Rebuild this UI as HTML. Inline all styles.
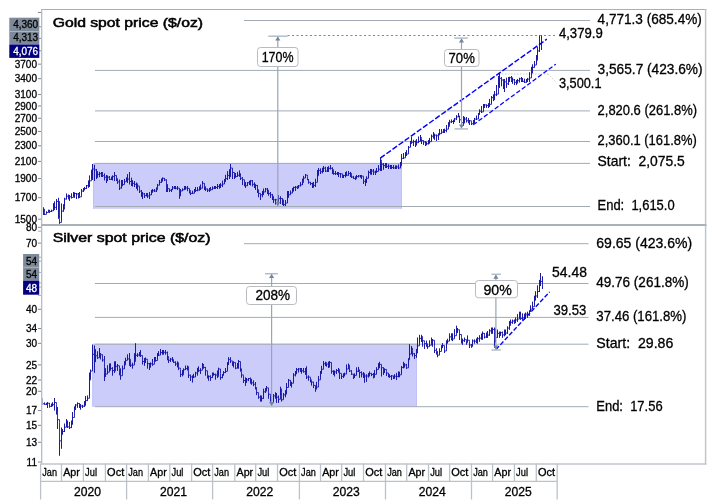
<!DOCTYPE html>
<html><head><meta charset="utf-8"><style>
html,body{margin:0;padding:0;background:#fff;width:718px;height:502px;overflow:hidden}
svg{display:block;will-change:transform}
text{font-family:"Liberation Sans",sans-serif}
</style></head><body>
<svg width="718" height="502" viewBox="0 0 718 502">
<rect width="718" height="502" fill="#fff"/>
<rect x="93" y="163" width="309" height="45.8" fill="#ccccfa"/>
<path d="M93.5,208.8V163.5H401.5V208.8" fill="none" stroke="#c0c0f8" stroke-width="1"/>
<rect x="92.3" y="343.8" width="324.7" height="63" fill="#ccccfa"/>
<path d="M92.8,406.8V344.3H416.5V406.8" fill="none" stroke="#c0c0f8" stroke-width="1"/>
<line x1="244" y1="20.5" x2="590" y2="20.5" stroke="#a3abb5" stroke-width="1" />
<line x1="95" y1="70.4" x2="590" y2="70.4" stroke="#a3abb5" stroke-width="1" />
<line x1="95" y1="110.9" x2="590" y2="110.9" stroke="#a3abb5" stroke-width="1" />
<line x1="95" y1="141.5" x2="590" y2="141.5" stroke="#a3abb5" stroke-width="1" />
<line x1="95" y1="163.4" x2="590" y2="163.4" stroke="#a3abb5" stroke-width="1" />
<line x1="95" y1="206.5" x2="590" y2="206.5" stroke="#a3abb5" stroke-width="1" />
<line x1="244" y1="243.7" x2="588.5" y2="243.7" stroke="#a3abb5" stroke-width="1" />
<line x1="95" y1="283.5" x2="588.5" y2="283.5" stroke="#a3abb5" stroke-width="1" />
<line x1="95" y1="317.4" x2="588.5" y2="317.4" stroke="#a3abb5" stroke-width="1" />
<line x1="95" y1="344.2" x2="588.5" y2="344.2" stroke="#a3abb5" stroke-width="1" />
<line x1="95" y1="406.7" x2="588.5" y2="406.7" stroke="#a3abb5" stroke-width="1" />
<line x1="287.5" y1="35.5" x2="555" y2="35.5" stroke="#7f8994" stroke-width="1" stroke-dasharray="2,2.5"/>
<line x1="502" y1="74" x2="548" y2="74" stroke="#c8ccd0" stroke-width="1" stroke-dasharray="1.5,1.5"/>
<line x1="548" y1="74" x2="556" y2="82" stroke="#c8ccd0" stroke-width="1" stroke-dasharray="1.5,1.5"/>
<path d="M43.5,207.20V215.00V209.10H44.5V212.51V215.00V214.36H46.5V211.48V213.00V212.52H48.5V209.85V211.50V210.39H49.5V209.90V213.00V211.44H51.5V209.78V212.00V210.81H53.5V203.30V210.80V207.85H54.5V201.52V209.82V207.35H56.5V199.10V210.00V201.45H58.5V197.90V218.70V201.43H59.5V218.70V223.70V222.38H61.5V203.60V220.24V211.14H63.5V204.40V211.50V209.25H64.5V197.90V205.80V199.10H66.5V193.60V199.30V196.23H68.5V194.68V199.22V197.65H69.5V194.97V200.80V196.78H71.5V193.48V198.37V197.45H73.5V192.00V196.08V195.19H74.5V192.58V197.74V193.46H76.5V193.00V199.00V194.01H78.5V193.00V198.31V195.81H79.5V192.04V198.00V196.85H81.5V189.00V194.03V191.10H83.5V188.22V191.96V189.35H84.5V186.98V190.30V188.46H86.5V185.04V189.00V185.71H88.5V180.61V187.65V182.76H89.5V175.62V187.00V180.82H91.5V169.81V178.34V174.05H92.5V164.00V180.00V169.01H94.5V164.83V181.00V169.87H96.5V168.96V179.02V172.01H97.5V171.33V177.67V174.32H99.5V171.88V177.12V173.73H101.5V172.00V177.00V172.83H102.5V172.00V177.00V175.68H104.5V173.62V180.24V177.19H106.5V175.00V183.00V179.80H107.5V175.65V181.06V177.16H109.5V176.00V180.00V179.38H111.5V176.75V180.00V179.19H112.5V175.47V180.31V176.60H114.5V172.00V181.00V175.45H116.5V175.72V181.00V179.18H117.5V178.60V183.70V181.90H119.5V179.71V190.00V188.00H121.5V180.00V188.37V183.73H122.5V180.00V186.16V184.50H124.5V178.97V183.43V181.74H126.5V177.60V181.20V178.90H127.5V174.28V182.86V179.10H129.5V172.00V184.35V181.48H131.5V177.81V186.00V183.89H132.5V180.34V186.34V183.36H134.5V181.00V187.00V184.37H136.5V182.66V188.66V183.71H137.5V184.00V190.44V186.06H139.5V186.70V193.00V191.16H141.5V190.13V196.76V193.05H142.5V192.00V199.00V193.90H144.5V193.00V198.00V195.67H146.5V193.00V196.25V195.09H147.5V193.00V197.80V195.99H149.5V192.03V199.00V194.91H151.5V189.95V195.00V192.26H152.5V189.00V192.36V190.70H154.5V189.00V192.00V191.08H156.5V187.52V192.00V189.83H157.5V183.93V187.00V185.24H159.5V180.00V184.78V182.36H161.5V178.73V182.62V179.39H162.5V177.60V181.40V178.29H164.5V178.00V181.00V179.93H166.5V179.49V192.00V189.98H167.5V184.30V192.00V188.65H169.5V189.00V192.00V190.28H171.5V188.97V192.00V189.79H172.5V186.00V189.81V187.91H174.5V186.00V189.00V188.51H175.5V186.00V189.18V188.19H177.5V186.00V190.00V188.11H179.5V188.07V198.60V195.99H180.5V189.00V195.36V190.99H182.5V188.56V191.00V189.80H184.5V186.00V189.26V188.66H185.5V186.00V189.62V188.01H187.5V186.00V191.12V188.41H189.5V189.00V193.24V190.44H190.5V191.53V195.00V193.38H192.5V190.82V193.82V193.28H194.5V189.01V193.00V189.62H195.5V187.00V192.00V190.49H197.5V187.00V191.19V190.04H199.5V186.46V190.46V189.54H200.5V184.64V190.00V188.22H202.5V181.00V184.16V183.27H204.5V183.35V190.00V186.76H205.5V186.57V191.03V188.99H207.5V188.75V192.00V190.21H209.5V188.00V192.00V188.76H210.5V187.00V190.56V189.70H212.5V186.54V189.54V188.18H214.5V186.00V189.00V186.87H215.5V186.00V189.00V187.51H217.5V184.00V189.00V186.45H219.5V184.00V188.56V185.82H220.5V183.30V188.00V185.14H222.5V180.76V187.00V184.05H224.5V179.00V183.63V181.71H225.5V174.86V181.23V178.55H227.5V171.34V180.00V175.42H229.5V169.40V179.00V171.03H230.5V164.00V176.97V168.03H232.5V170.00V179.00V172.47H234.5V172.86V179.00V176.29H235.5V173.00V177.58V176.45H237.5V171.94V176.56V175.21H239.5V170.60V176.66V174.89H240.5V173.62V180.00V178.22H242.5V177.18V185.00V179.75H244.5V180.17V186.17V184.61H245.5V182.00V188.00V185.73H247.5V182.00V185.42V182.71H249.5V180.83V185.00V181.51H250.5V180.00V185.35V180.86H252.5V180.00V186.30V184.28H254.5V182.52V188.00V184.30H255.5V184.16V189.75V185.43H257.5V185.00V192.93V189.66H258.5V191.00V197.14V193.40H260.5V193.51V200.00V194.80H262.5V191.13V197.13V192.70H263.5V188.70V195.00V191.97H265.5V188.00V192.04V189.08H267.5V188.00V194.00V190.05H268.5V190.11V195.58V193.66H270.5V192.00V197.81V194.72H272.5V193.98V200.00V196.24H273.5V196.85V203.00V199.81H275.5V198.91V204.36V199.82H277.5V198.95V206.00V201.92H278.5V195.00V203.11V198.61H280.5V196.37V204.00V198.52H282.5V198.28V204.85V199.77H283.5V200.00V206.00V204.68H285.5V200.00V206.00V203.04H287.5V191.00V202.13V194.30H288.5V191.00V197.70V194.85H290.5V190.67V194.00V193.07H292.5V188.00V192.27V188.70H293.5V186.76V191.38V187.51H295.5V186.00V191.00V187.26H297.5V185.92V189.00V187.93H298.5V185.00V188.16V185.83H300.5V182.17V186.30V184.83H302.5V178.80V185.00V182.67H303.5V175.90V180.00V178.08H305.5V174.00V177.68V175.12H307.5V176.59V180.11V179.52H308.5V179.00V183.55V182.22H310.5V182.00V185.08V183.57H312.5V182.75V188.00V184.36H313.5V182.06V187.53V185.36H315.5V178.80V187.00V182.30H317.5V170.00V180.32V175.71H318.5V168.00V174.33V170.37H320.5V168.57V174.00V171.78H322.5V167.85V173.23V168.88H323.5V166.00V172.00V168.15H325.5V166.86V172.00V171.11H327.5V167.00V172.00V170.81H328.5V166.35V172.00V168.41H330.5V165.00V169.41V168.31H332.5V167.51V174.00V169.89H333.5V169.70V174.57V173.63H335.5V171.00V175.00V173.68H337.5V172.00V175.02V173.33H338.5V172.00V177.00V173.63H340.5V173.12V177.56V173.81H342.5V174.00V178.00V177.06H343.5V174.92V178.00V175.47H345.5V172.00V177.25V175.80H346.5V171.49V175.97V175.18H348.5V171.00V175.53V173.49H350.5V171.96V177.00V173.32H351.5V174.13V178.00V177.06H353.5V175.93V178.93V178.42H355.5V176.56V180.00V178.77H356.5V175.00V178.05V176.55H358.5V175.00V177.30V175.96H360.5V175.00V177.42V175.95H361.5V175.00V178.87V176.14H363.5V176.80V184.00V181.28H365.5V178.96V186.00V182.15H366.5V176.48V182.87V178.31H368.5V170.76V178.00V172.38H370.5V169.00V174.51V172.39H371.5V169.00V174.60V171.00H373.5V169.00V175.00V172.00H375.5V170.74V175.00V172.35H376.5V168.00V172.57V171.48H378.5V165.23V170.34V169.21H380.5V158.00V171.00V160.11H381.5V161.50V171.00V164.26H383.5V163.00V169.64V165.52H385.5V163.00V168.00V167.20H386.5V163.00V168.00V166.49H388.5V164.35V169.00V166.15H390.5V165.00V169.00V166.20H391.5V165.00V169.00V167.49H393.5V165.00V169.00V167.95H395.5V165.62V169.00V168.33H396.5V165.65V169.00V166.96H398.5V164.67V169.00V167.99H400.5V162.00V168.14V165.87H401.5V154.00V162.90V158.35H403.5V153.00V158.77V157.85H405.5V152.20V156.60V153.58H406.5V150.23V156.00V154.02H408.5V146.00V152.36V147.33H410.5V140.95V146.95V142.56H411.5V137.00V143.68V142.26H413.5V139.84V146.00V141.68H415.5V140.70V147.00V144.99H416.5V139.26V145.26V142.68H418.5V136.67V143.00V141.35H420.5V135.00V141.16V137.51H421.5V138.36V144.00V140.55H423.5V140.41V144.82V141.97H425.5V141.00V146.00V144.79H426.5V141.85V145.15V143.74H428.5V140.00V144.34V143.55H429.5V137.96V142.77V141.67H431.5V134.67V141.00V136.22H433.5V132.00V138.41V135.43H434.5V133.77V139.77V135.11H436.5V134.66V141.00V135.78H438.5V133.42V140.00V134.74H439.5V129.00V135.15V133.65H441.5V129.00V133.45V132.13H443.5V129.00V133.00V131.92H444.5V128.78V133.00V130.42H446.5V125.00V132.19V129.18H448.5V122.30V128.23V126.43H449.5V119.90V125.00V122.01H451.5V119.60V123.03V121.49H453.5V119.89V124.00V121.15H454.5V118.04V122.04V118.87H456.5V115.30V120.00V116.88H458.5V113.00V117.13V116.20H459.5V115.84V123.00V119.74H461.5V116.56V124.33V122.76H463.5V116.00V126.00V120.70H464.5V116.93V123.22V119.09H466.5V117.00V122.35V120.75H468.5V118.17V123.17V121.82H469.5V120.00V125.00V120.79H471.5V121.80V125.00V123.78H473.5V120.12V123.75V120.90H474.5V117.91V123.00V119.08H476.5V115.66V120.00V119.00H478.5V113.00V117.50V113.80H479.5V109.51V114.67V111.15H481.5V106.03V113.00V111.90H483.5V104.00V108.00V105.78H484.5V104.00V108.00V104.92H486.5V104.55V108.00V105.48H488.5V103.23V108.00V104.75H489.5V98.95V107.00V104.35H491.5V96.00V103.30V97.62H493.5V94.55V101.04V99.66H494.5V91.11V100.00V94.80H496.5V85.00V96.04V94.15H498.5V76.02V86.49V84.25H499.5V73.00V88.00V78.34H501.5V77.00V86.21V80.01H503.5V79.37V89.00V84.03H504.5V79.00V92.00V81.86H506.5V77.78V87.74V83.82H508.5V77.00V85.00V78.42H509.5V76.89V82.00V77.69H511.5V76.00V82.00V81.03H512.5V77.67V83.67V79.81H514.5V79.00V85.00V82.41H516.5V79.95V85.00V82.30H517.5V79.00V83.40V80.62H519.5V77.89V82.45V78.77H521.5V77.00V82.00V80.95H522.5V78.00V82.02V81.33H524.5V78.81V83.00V82.28H526.5V79.00V82.47V79.79H527.5V77.96V82.00V79.17H529.5V72.37V82.00V77.98H531.5V66.85V74.33V73.10H532.5V64.45V70.00V67.39H534.5V61.00V67.33V65.00H536.5V55.00V63.77V60.38H537.5V47.00V58.70V50.88H539.5V35.50V51.97V44.22H541.5V35.50V50.00V40.79" stroke="#1818a6" stroke-width="0.9" fill="none"/>
<path d="M42.5,398.00V405.00V403.73H44.5V402.60V404.65V404.27H46.5V402.97V405.00V403.35H47.5V402.00V408.00V403.26H49.5V402.99V407.50V406.31H51.5V403.71V407.00V405.90H52.5V402.43V406.11V404.71H54.5V398.00V410.36V402.52H56.5V404.45V414.36V410.14H57.5V407.00V429.00V419.64H59.5V422.32V455.60V440.85H61.5V427.70V448.60V433.15H62.5V429.00V434.60V431.53H64.5V423.66V432.00V427.21H66.5V419.21V426.76V424.16H67.5V420.70V428.01V426.89H69.5V421.96V429.00V427.70H71.5V420.70V427.94V424.54H72.5V412.00V423.86V417.47H74.5V406.52V412.00V408.37H75.5V404.00V409.86V405.03H77.5V402.60V407.69V403.46H79.5V403.21V407.93V405.45H80.5V404.00V409.50V406.05H82.5V404.92V408.00V406.20H84.5V401.00V406.90V405.56H85.5V396.00V405.00V400.66H87.5V395.63V400.60V398.32H89.5V372.70V396.00V380.05H90.5V369.67V378.00V371.06H92.5V344.80V370.00V354.32H94.5V345.64V372.70V352.29H95.5V349.34V362.09V355.81H97.5V351.47V358.88V357.76H99.5V348.00V357.05V353.63H100.5V353.00V359.30V354.75H102.5V354.50V361.50V359.93H104.5V356.00V381.00V373.69H105.5V368.32V377.06V374.12H107.5V365.41V374.00V372.15H109.5V363.64V370.36V368.24H110.5V363.54V370.46V368.40H112.5V367.28V375.50V370.55H114.5V361.50V372.94V371.07H115.5V361.50V367.30V366.28H117.5V364.00V370.77V365.78H119.5V368.50V375.20V373.04H120.5V368.50V379.60V375.72H122.5V365.70V372.35V368.85H124.5V361.24V368.50V365.02H125.5V357.80V363.00V360.36H127.5V354.50V360.00V358.89H129.5V353.00V365.70V359.36H130.5V360.16V367.00V365.17H132.5V362.80V368.50V365.07H134.5V353.30V364.00V361.52H135.5V343.40V358.70V355.33H137.5V353.34V357.00V355.07H139.5V352.00V356.23V354.31H140.5V350.00V357.00V355.56H142.5V356.00V364.36V361.49H144.5V358.02V365.70V361.79H145.5V357.59V363.00V359.24H147.5V360.70V368.50V363.64H149.5V363.00V370.00V367.48H150.5V362.57V367.00V363.75H152.5V359.01V365.70V364.27H154.5V357.00V361.50V358.52H155.5V357.00V361.50V360.55H157.5V353.00V358.82V355.13H158.5V351.31V356.00V355.16H160.5V349.00V354.50V352.54H162.5V350.00V354.50V352.26H163.5V350.00V354.50V352.31H165.5V350.00V354.50V352.73H167.5V351.70V360.21V356.48H168.5V358.70V363.00V360.28H170.5V357.95V362.00V359.14H172.5V357.00V361.50V359.29H173.5V359.44V363.00V362.30H175.5V361.50V365.70V363.96H177.5V361.50V367.28V362.67H178.5V363.00V370.06V368.11H180.5V369.34V377.00V374.38H182.5V370.00V376.26V374.91H183.5V368.50V372.94V369.76H185.5V365.70V370.00V368.59H187.5V365.70V370.37V366.59H188.5V370.84V378.00V375.19H190.5V374.78V381.00V376.90H192.5V375.50V382.40V377.63H193.5V373.85V378.00V377.02H195.5V371.89V377.00V373.04H197.5V367.91V375.50V371.82H198.5V366.57V372.00V370.63H200.5V368.38V374.00V370.19H202.5V363.00V368.16V364.53H203.5V364.04V368.50V367.46H205.5V366.96V375.50V370.77H207.5V374.00V378.27V376.79H208.5V375.50V380.60V376.38H210.5V375.50V380.76V377.62H212.5V372.70V377.52V374.00H213.5V372.70V375.52V374.45H215.5V373.78V379.60V374.99H217.5V370.66V378.00V376.67H218.5V367.81V374.69V368.97H220.5V373.60V379.60V377.56H222.5V374.00V378.14V374.68H223.5V371.17V375.50V372.59H225.5V368.00V372.70V371.38H227.5V362.29V370.00V364.30H228.5V357.30V364.89V359.41H230.5V357.30V363.00V360.91H232.5V361.50V365.74V363.28H233.5V361.50V367.32V362.55H235.5V363.00V369.10V368.14H237.5V363.00V368.24V364.34H238.5V360.00V368.50V361.49H240.5V367.00V371.46V368.74H241.5V371.30V377.56V374.93H243.5V375.50V382.96V380.50H245.5V377.55V385.81V379.44H246.5V378.00V382.79V379.85H248.5V378.00V381.06V378.52H250.5V377.70V383.43V380.36H251.5V378.91V384.60V382.81H253.5V380.50V386.12V384.25H255.5V382.00V389.30V387.70H256.5V387.40V395.04V392.59H258.5V392.83V398.60V397.18H260.5V395.56V401.40V399.32H261.5V395.70V401.40V398.44H263.5V388.80V398.60V391.82H265.5V388.22V393.00V391.15H266.5V386.00V391.07V387.88H268.5V392.96V398.60V394.21H270.5V395.80V401.44V398.41H271.5V398.04V404.20V402.74H273.5V394.18V401.40V395.91H275.5V392.40V398.60V395.87H276.5V393.00V402.80V397.17H278.5V395.64V402.80V399.29H280.5V386.81V395.06V388.88H281.5V392.22V401.40V399.76H283.5V393.00V398.60V394.86H285.5V390.30V397.20V394.26H286.5V383.08V393.00V387.48H288.5V379.00V386.62V380.24H290.5V380.11V386.00V383.30H291.5V381.89V387.40V383.26H293.5V373.32V382.00V374.96H295.5V371.00V376.30V371.92H296.5V368.00V374.12V369.61H298.5V368.00V372.39V368.95H300.5V368.00V372.00V370.38H301.5V368.00V373.50V370.78H303.5V368.00V372.45V371.73H305.5V368.00V374.86V373.51H306.5V366.50V379.00V377.08H308.5V375.55V380.50V377.10H310.5V377.70V382.21V379.78H311.5V380.50V385.44V382.11H313.5V381.90V388.08V385.38H315.5V385.54V391.60V389.10H316.5V381.90V389.20V387.08H318.5V376.12V381.90V379.86H320.5V371.02V377.70V373.22H321.5V365.91V373.50V369.30H323.5V361.00V366.41V363.81H325.5V361.86V366.00V362.49H326.5V363.63V366.56V364.14H328.5V361.77V368.00V364.49H329.5V361.00V367.36V362.45H331.5V367.06V373.50V371.29H333.5V370.40V374.90V371.83H334.5V370.70V376.30V371.93H336.5V369.10V374.00V370.46H338.5V368.00V372.51V369.41H339.5V370.91V379.00V373.35H341.5V373.50V379.00V376.33H343.5V373.50V377.83V375.56H344.5V372.77V376.30V374.07H346.5V364.65V372.00V369.05H348.5V363.70V368.59V365.16H349.5V366.93V372.00V370.91H351.5V370.24V374.90V374.08H353.5V374.90V379.00V377.61H354.5V373.48V377.70V375.39H356.5V367.51V374.90V371.27H358.5V366.93V372.00V369.75H359.5V371.31V377.70V372.50H361.5V371.60V377.21V374.08H363.5V372.00V377.96V375.08H364.5V373.50V382.61V376.02H366.5V374.40V381.85V376.01H368.5V373.00V377.44V376.16H369.5V371.60V375.80V373.31H371.5V373.00V376.08V374.58H373.5V373.00V378.28V377.20H374.5V370.20V377.42V374.37H376.5V367.40V373.48V369.54H378.5V363.28V368.80V367.91H379.5V361.90V367.96V364.39H381.5V366.00V376.34V367.69H383.5V367.40V374.80V372.06H384.5V368.46V373.00V369.46H386.5V371.44V375.80V373.03H388.5V373.00V377.20V376.10H389.5V374.40V377.64V376.41H391.5V375.10V380.00V375.89H393.5V375.80V379.04V377.31H394.5V374.40V378.60V376.24H396.5V372.92V380.00V376.39H398.5V371.60V377.20V373.26H399.5V371.80V377.20V374.84H401.5V366.00V373.22V367.46H403.5V361.90V368.24V364.11H404.5V363.30V367.48V365.02H406.5V363.94V368.80V367.85H408.5V358.30V366.00V359.87H409.5V344.40V358.70V354.10H411.5V346.08V353.80V348.28H412.5V350.64V356.30V353.75H414.5V353.02V359.00V355.56H416.5V349.02V357.70V353.14H417.5V337.70V349.73V345.85H419.5V334.90V343.00V338.35H421.5V334.90V341.90V336.55H422.5V339.00V346.48V340.76H424.5V342.30V348.80V343.64H426.5V340.77V346.64V345.14H427.5V343.62V348.80V346.72H429.5V340.50V346.24V345.22H431.5V337.70V342.36V340.66H432.5V339.00V346.60V340.27H434.5V346.12V353.00V350.33H436.5V348.42V354.40V352.57H437.5V351.36V357.20V355.19H439.5V348.52V354.40V351.45H441.5V345.23V350.20V347.22H442.5V343.30V348.06V345.54H444.5V345.99V353.00V350.96H446.5V340.50V348.28V343.13H447.5V338.84V343.30V341.15H449.5V333.50V340.50V336.89H451.5V333.50V340.16V338.95H452.5V333.50V341.08V338.90H454.5V329.30V337.26V335.69H456.5V325.80V332.18V330.49H457.5V328.00V333.00V329.79H459.5V332.00V340.03V334.51H461.5V337.70V343.30V340.46H462.5V338.70V344.60V340.66H464.5V337.70V342.02V339.64H466.5V339.80V344.60V342.80H467.5V335.60V341.42V340.22H469.5V341.21V348.00V345.01H471.5V344.21V347.58V346.64H472.5V339.60V345.91V340.97H474.5V339.60V343.50V341.16H476.5V338.59V343.13V342.44H477.5V336.98V343.60V338.65H479.5V335.32V341.60V338.09H481.5V333.66V339.60V334.83H482.5V331.70V339.60V333.36H484.5V333.06V338.31V337.14H486.5V332.68V337.70V336.91H487.5V331.02V337.70V335.05H489.5V329.36V335.70V330.88H491.5V327.70V333.70V329.84H492.5V327.70V333.70V329.57H494.5V327.70V347.60V340.03H495.5V328.73V342.49V337.36H497.5V329.70V337.70V333.36H499.5V331.70V337.70V334.80H500.5V331.70V335.76V332.63H502.5V331.70V337.70V334.87H504.5V329.70V336.25V335.04H505.5V329.70V334.56V333.00H507.5V326.50V333.70V328.06H509.5V321.24V329.70V325.57H510.5V319.70V323.70V322.30H512.5V319.70V323.70V321.02H514.5V319.70V323.70V322.81H515.5V317.55V322.60V319.94H517.5V314.28V321.70V319.05H519.5V311.80V318.12V314.54H520.5V311.80V319.70V318.49H522.5V313.54V319.70V317.84H524.5V313.80V319.70V317.05H525.5V312.68V318.58V314.17H527.5V311.80V317.70V314.51H529.5V310.36V315.80V311.29H530.5V305.52V311.80V309.08H532.5V301.80V308.20V306.71H534.5V295.80V304.88V298.31H535.5V291.38V300.44V295.97H537.5V285.56V297.80V291.53H539.5V279.94V291.90V285.13H540.5V273.00V286.05V281.45H542.5V276.52V288.90V286.49" stroke="#1818a6" stroke-width="0.9" fill="none"/>
<line x1="380.3" y1="158.1" x2="546.8" y2="39.2" stroke="#0000ff" stroke-width="1.45" stroke-dasharray="5.5,2"/>
<line x1="473.2" y1="124.8" x2="555.8" y2="64.2" stroke="#0000ff" stroke-width="1.25" stroke-dasharray="4.5,2.2"/>
<line x1="495.9" y1="349.6" x2="549.6" y2="291.9" stroke="#0000ff" stroke-width="1.35" stroke-dasharray="4.5,2"/>
<line x1="277.8" y1="36.2" x2="277.8" y2="206.3" stroke="#97a5b4" stroke-width="1.2" />
<line x1="268.3" y1="36.2" x2="287.5" y2="36.2" stroke="#b2bdc9" stroke-width="1.5" />
<path d="M275.2,40.6L277.8,36.6L280.40000000000003,40.6Z" fill="#73859b"/>
<path d="M275.2,201.9L277.8,205.9L280.40000000000003,201.9Z" fill="#73859b"/>
<line x1="461.5" y1="38.1" x2="461.5" y2="128.9" stroke="#97a5b4" stroke-width="1.2" />
<line x1="454.2" y1="38.1" x2="467.8" y2="38.1" stroke="#b2bdc9" stroke-width="1.5" />
<path d="M458.9,42.5L461.5,38.5L464.1,42.5Z" fill="#73859b"/>
<path d="M458.9,124.5L461.5,128.5L464.1,124.5Z" fill="#73859b"/>
<line x1="454.6" y1="128.9" x2="468" y2="128.9" stroke="#b2bdc9" stroke-width="1.5" />
<line x1="271.6" y1="273.7" x2="271.6" y2="406.5" stroke="#97a5b4" stroke-width="1.2" />
<line x1="265.1" y1="273.7" x2="277.8" y2="273.7" stroke="#b2bdc9" stroke-width="1.5" />
<path d="M269.0,278.09999999999997L271.6,274.09999999999997L274.20000000000005,278.09999999999997Z" fill="#73859b"/>
<path d="M269.0,402.1L271.6,406.1L274.20000000000005,402.1Z" fill="#73859b"/>
<line x1="265" y1="406.5" x2="277.6" y2="406.5" stroke="#b2bdc9" stroke-width="1.5" />
<line x1="495.9" y1="274.3" x2="495.9" y2="350" stroke="#97a5b4" stroke-width="1.2" />
<line x1="491.5" y1="274.3" x2="500.9" y2="274.3" stroke="#b2bdc9" stroke-width="1.5" />
<path d="M493.29999999999995,278.7L495.9,274.7L498.5,278.7Z" fill="#73859b"/>
<path d="M493.29999999999995,345.6L495.9,349.6L498.5,345.6Z" fill="#73859b"/>
<line x1="491.5" y1="350" x2="500.9" y2="350" stroke="#b2bdc9" stroke-width="1.5" />
<rect x="257.5" y="47.5" width="40.5" height="19.0" rx="3" ry="3" fill="#fff" stroke="#b8bcc0" stroke-width="1"/>
<text x="261.7" y="61.5" font-size="13.8" text-anchor="start" font-weight="normal" fill="#000" textLength="31.8" lengthAdjust="spacingAndGlyphs" stroke="#000" stroke-width="0.3" >170%</text>
<rect x="444.5" y="49.5" width="34.5" height="17.0" rx="3" ry="3" fill="#fff" stroke="#b8bcc0" stroke-width="1"/>
<text x="448.6" y="62.8" font-size="13.8" text-anchor="start" font-weight="normal" fill="#000" textLength="26.2" lengthAdjust="spacingAndGlyphs" stroke="#000" stroke-width="0.3" >70%</text>
<rect x="246.5" y="286.5" width="50.0" height="18.0" rx="3" ry="3" fill="#fff" stroke="#b8bcc0" stroke-width="1"/>
<text x="255.4" y="300" font-size="13.8" text-anchor="start" font-weight="normal" fill="#000" textLength="34.6" lengthAdjust="spacingAndGlyphs" stroke="#000" stroke-width="0.3" >208%</text>
<rect x="475.5" y="280.5" width="42.0" height="17.30000000000001" rx="3" ry="3" fill="#fff" stroke="#b8bcc0" stroke-width="1"/>
<text x="483.5" y="294.8" font-size="13.8" text-anchor="start" font-weight="normal" fill="#000" textLength="28.3" lengthAdjust="spacingAndGlyphs" stroke="#000" stroke-width="0.3" >90%</text>
<line x1="41" y1="9.5" x2="706.4" y2="9.5" stroke="#a7afb8" stroke-width="1" />
<line x1="41.5" y1="9" x2="41.5" y2="464.6" stroke="#b3bbc3" stroke-width="1" />
<line x1="42.4" y1="10" x2="42.4" y2="464" stroke="#dde1e5" stroke-width="0.8" />
<line x1="705.6" y1="9" x2="705.6" y2="464.6" stroke="#bfc5cb" stroke-width="1.5" />
<line x1="41" y1="464.0" x2="706.4" y2="464.0" stroke="#c0c6cc" stroke-width="1.5" />
<line x1="41" y1="225" x2="706.4" y2="225" stroke="#a9b1ba" stroke-width="2" />
<text x="52.7" y="26.9" font-size="13.6" text-anchor="start" font-weight="normal" fill="#000" textLength="150.3" lengthAdjust="spacingAndGlyphs" stroke="#000" stroke-width="0.55">Gold spot price ($/oz)</text>
<text x="52.7" y="242.1" font-size="13.6" text-anchor="start" font-weight="normal" fill="#000" textLength="157.8" lengthAdjust="spacingAndGlyphs" stroke="#000" stroke-width="0.55">Silver spot price ($/oz)</text>
<text x="597.6" y="23.5" font-size="14.3" text-anchor="start" font-weight="normal" fill="#000" textLength="104.2" lengthAdjust="spacingAndGlyphs" stroke="#000" stroke-width="0.3" >4,771.3 (685.4%)</text>
<text x="558.9" y="37.9" font-size="14.3" text-anchor="start" font-weight="normal" fill="#000" textLength="43.8" lengthAdjust="spacingAndGlyphs" stroke="#000" stroke-width="0.3" >4,379.9</text>
<text x="597.6" y="73.5" font-size="14.3" text-anchor="start" font-weight="normal" fill="#000" textLength="105" lengthAdjust="spacingAndGlyphs" stroke="#000" stroke-width="0.3" >3,565.7 (423.6%)</text>
<text x="558.9" y="87.9" font-size="14.3" text-anchor="start" font-weight="normal" fill="#000" textLength="42.6" lengthAdjust="spacingAndGlyphs" stroke="#000" stroke-width="0.3" >3,500.1</text>
<text x="597.6" y="114.9" font-size="14.3" text-anchor="start" font-weight="normal" fill="#000" textLength="99.4" lengthAdjust="spacingAndGlyphs" stroke="#000" stroke-width="0.3" >2,820.6 (261.8%)</text>
<text x="597.6" y="144.7" font-size="14.3" text-anchor="start" font-weight="normal" fill="#000" textLength="99.1" lengthAdjust="spacingAndGlyphs" stroke="#000" stroke-width="0.3" >2,360.1 (161.8%)</text>
<text x="597.6" y="166.4" font-size="14.3" text-anchor="start" font-weight="normal" fill="#000" textLength="87.2" lengthAdjust="spacingAndGlyphs" stroke="#000" stroke-width="0.3" xml:space="preserve">Start:  2,075.5</text>
<text x="597.6" y="210.0" font-size="14.3" text-anchor="start" font-weight="normal" fill="#000" textLength="77.0" lengthAdjust="spacingAndGlyphs" stroke="#000" stroke-width="0.3" xml:space="preserve">End:  1,615.0</text>
<text x="596.3" y="248.0" font-size="14.3" text-anchor="start" font-weight="normal" fill="#000" textLength="95.8" lengthAdjust="spacingAndGlyphs" stroke="#000" stroke-width="0.3" >69.65 (423.6%)</text>
<text x="552.1" y="276.6" font-size="14.3" text-anchor="start" font-weight="normal" fill="#000" textLength="34.8" lengthAdjust="spacingAndGlyphs" stroke="#000" stroke-width="0.3" >54.48</text>
<text x="596.3" y="286.6" font-size="14.3" text-anchor="start" font-weight="normal" fill="#000" textLength="92.4" lengthAdjust="spacingAndGlyphs" stroke="#000" stroke-width="0.3" >49.76 (261.8%)</text>
<text x="553.5" y="314.5" font-size="14.3" text-anchor="start" font-weight="normal" fill="#000" textLength="32.7" lengthAdjust="spacingAndGlyphs" stroke="#000" stroke-width="0.3" >39.53</text>
<text x="596.3" y="320.7" font-size="14.3" text-anchor="start" font-weight="normal" fill="#000" textLength="90.2" lengthAdjust="spacingAndGlyphs" stroke="#000" stroke-width="0.3" >37.46 (161.8%)</text>
<text x="596.3" y="347.9" font-size="14.3" text-anchor="start" font-weight="normal" fill="#000" textLength="77.0" lengthAdjust="spacingAndGlyphs" stroke="#000" stroke-width="0.3" xml:space="preserve">Start:  29.86</text>
<text x="596.3" y="410.6" font-size="14.3" text-anchor="start" font-weight="normal" fill="#000" textLength="66.3" lengthAdjust="spacingAndGlyphs" stroke="#000" stroke-width="0.3" xml:space="preserve">End:  17.56</text>
<line x1="37.9" y1="219.19" x2="41" y2="219.19" stroke="#7f8994" stroke-width="1" />
<line x1="37.9" y1="197.69948835479718" x2="41" y2="197.69948835479718" stroke="#7f8994" stroke-width="1" />
<line x1="37.9" y1="178.60204680637165" x2="41" y2="178.60204680637165" stroke="#7f8994" stroke-width="1" />
<line x1="37.9" y1="161.41771697213775" x2="41" y2="161.41771697213775" stroke="#7f8994" stroke-width="1" />
<line x1="37.9" y1="145.79786265421444" x2="41" y2="145.79786265421444" stroke="#7f8994" stroke-width="1" />
<line x1="37.9" y1="131.4812403993794" x2="41" y2="131.4812403993794" stroke="#7f8994" stroke-width="1" />
<line x1="37.9" y1="118.26702963630616" x2="41" y2="118.26702963630616" stroke="#7f8994" stroke-width="1" />
<line x1="37.9" y1="105.99752552057188" x2="41" y2="105.99752552057188" stroke="#7f8994" stroke-width="1" />
<line x1="37.9" y1="94.54661651914984" x2="41" y2="94.54661651914984" stroke="#7f8994" stroke-width="1" />
<line x1="37.9" y1="78.68611745265457" x2="41" y2="78.68611745265457" stroke="#7f8994" stroke-width="1" />
<line x1="37.9" y1="64.16761392823614" x2="41" y2="64.16761392823614" stroke="#7f8994" stroke-width="1" />
<line x1="37.9" y1="50.78161725788661" x2="41" y2="50.78161725788661" stroke="#7f8994" stroke-width="1" />
<line x1="37.9" y1="38.36415966466481" x2="41" y2="38.36415966466481" stroke="#7f8994" stroke-width="1" />
<line x1="37.9" y1="26.784491752071858" x2="41" y2="26.784491752071858" stroke="#7f8994" stroke-width="1" />
<line x1="37.9" y1="12.46786949723679" x2="41" y2="12.46786949723679" stroke="#7f8994" stroke-width="1" />
<text x="37" y="222.79" font-size="10" text-anchor="end" font-weight="normal" fill="#000" stroke="#000" stroke-width="0.3" >1500</text>
<text x="37" y="201.29948835479718" font-size="10" text-anchor="end" font-weight="normal" fill="#000" stroke="#000" stroke-width="0.3" >1700</text>
<text x="37" y="182.20204680637164" font-size="10" text-anchor="end" font-weight="normal" fill="#000" stroke="#000" stroke-width="0.3" >1900</text>
<text x="37" y="165.01771697213775" font-size="10" text-anchor="end" font-weight="normal" fill="#000" stroke="#000" stroke-width="0.3" >2100</text>
<text x="37" y="149.39786265421444" font-size="10" text-anchor="end" font-weight="normal" fill="#000" stroke="#000" stroke-width="0.3" >2300</text>
<text x="37" y="135.0812403993794" font-size="10" text-anchor="end" font-weight="normal" fill="#000" stroke="#000" stroke-width="0.3" >2500</text>
<text x="37" y="121.86702963630616" font-size="10" text-anchor="end" font-weight="normal" fill="#000" stroke="#000" stroke-width="0.3" >2700</text>
<text x="37" y="109.59752552057188" font-size="10" text-anchor="end" font-weight="normal" fill="#000" stroke="#000" stroke-width="0.3" >2900</text>
<text x="37" y="98.14661651914983" font-size="10" text-anchor="end" font-weight="normal" fill="#000" stroke="#000" stroke-width="0.3" >3100</text>
<text x="37" y="82.28611745265457" font-size="10" text-anchor="end" font-weight="normal" fill="#000" stroke="#000" stroke-width="0.3" >3400</text>
<text x="37" y="67.76761392823613" font-size="10" text-anchor="end" font-weight="normal" fill="#000" stroke="#000" stroke-width="0.3" >3700</text>
<line x1="37.9" y1="462.03" x2="41" y2="462.03" stroke="#7f8994" stroke-width="1" />
<line x1="37.9" y1="442.2675017843474" x2="41" y2="442.2675017843474" stroke="#7f8994" stroke-width="1" />
<line x1="37.9" y1="425.33867198165575" x2="41" y2="425.33867198165575" stroke="#7f8994" stroke-width="1" />
<line x1="37.9" y1="410.53187217019683" x2="41" y2="410.53187217019683" stroke="#7f8994" stroke-width="1" />
<line x1="37.9" y1="391.3058828106101" x2="41" y2="391.3058828106101" stroke="#7f8994" stroke-width="1" />
<line x1="37.9" y1="380.03068853975844" x2="41" y2="380.03068853975844" stroke="#7f8994" stroke-width="1" />
<line x1="37.9" y1="364.90800069013903" x2="41" y2="364.90800069013903" stroke="#7f8994" stroke-width="1" />
<line x1="37.9" y1="343.3393605214142" x2="41" y2="343.3393605214142" stroke="#7f8994" stroke-width="1" />
<line x1="37.9" y1="328.5325607099553" x2="41" y2="328.5325607099553" stroke="#7f8994" stroke-width="1" />
<line x1="37.9" y1="309.30657135036853" x2="41" y2="309.30657135036853" stroke="#7f8994" stroke-width="1" />
<line x1="37.9" y1="243.10402363760804" x2="41" y2="243.10402363760804" stroke="#7f8994" stroke-width="1" />
<line x1="37.9" y1="227.30725989012703" x2="41" y2="227.30725989012703" stroke="#7f8994" stroke-width="1" />
<line x1="37.9" y1="231.2" x2="41" y2="231.2" stroke="#a8b0b8" stroke-width="1" />
<line x1="37.9" y1="257.2" x2="41" y2="257.2" stroke="#a8b0b8" stroke-width="1" />
<line x1="37.9" y1="261.2" x2="41" y2="261.2" stroke="#a8b0b8" stroke-width="1" />
<line x1="37.9" y1="272.4" x2="41" y2="272.4" stroke="#a8b0b8" stroke-width="1" />
<line x1="37.9" y1="282.9" x2="41" y2="282.9" stroke="#a8b0b8" stroke-width="1" />
<line x1="37.9" y1="287.1" x2="41" y2="287.1" stroke="#a8b0b8" stroke-width="1" />
<line x1="37.9" y1="295.4" x2="41" y2="295.4" stroke="#a8b0b8" stroke-width="1" />
<text x="37" y="465.63" font-size="10" text-anchor="end" font-weight="normal" fill="#000" stroke="#000" stroke-width="0.3" >11</text>
<text x="37" y="445.86750178434744" font-size="10" text-anchor="end" font-weight="normal" fill="#000" stroke="#000" stroke-width="0.3" >13</text>
<text x="37" y="428.9386719816558" font-size="10" text-anchor="end" font-weight="normal" fill="#000" stroke="#000" stroke-width="0.3" >15</text>
<text x="37" y="414.13187217019686" font-size="10" text-anchor="end" font-weight="normal" fill="#000" stroke="#000" stroke-width="0.3" >17</text>
<text x="37" y="394.90588281061014" font-size="10" text-anchor="end" font-weight="normal" fill="#000" stroke="#000" stroke-width="0.3" >20</text>
<text x="37" y="383.63068853975847" font-size="10" text-anchor="end" font-weight="normal" fill="#000" stroke="#000" stroke-width="0.3" >22</text>
<text x="37" y="368.50800069013906" font-size="10" text-anchor="end" font-weight="normal" fill="#000" stroke="#000" stroke-width="0.3" >25</text>
<text x="37" y="346.93936052141424" font-size="10" text-anchor="end" font-weight="normal" fill="#000" stroke="#000" stroke-width="0.3" >30</text>
<text x="37" y="332.1325607099553" font-size="10" text-anchor="end" font-weight="normal" fill="#000" stroke="#000" stroke-width="0.3" >34</text>
<text x="37" y="312.90657135036855" font-size="10" text-anchor="end" font-weight="normal" fill="#000" stroke="#000" stroke-width="0.3" >40</text>
<text x="37" y="246.70402363760803" font-size="10" text-anchor="end" font-weight="normal" fill="#000" stroke="#000" stroke-width="0.3" >70</text>
<text x="37" y="230.90725989012702" font-size="10" text-anchor="end" font-weight="normal" fill="#000" stroke="#000" stroke-width="0.3" >80</text>
<rect x="9.3" y="17.7" width="30" height="26.8" fill="#7e8a99"/>
<rect x="9.3" y="31" width="30" height="1" fill="#aab5c1"/>
<rect x="9.3" y="44.5" width="30" height="13.4" fill="#000080"/>
<text x="38.2" y="27.6" font-size="10" text-anchor="end" font-weight="normal" fill="#000" stroke="#000" stroke-width="0.3" >4,360</text>
<text x="38.2" y="41.2" font-size="10" text-anchor="end" font-weight="normal" fill="#000" stroke="#000" stroke-width="0.3" >4,313</text>
<text x="38.2" y="54.5" font-size="10" text-anchor="end" font-weight="normal" fill="#fff" stroke="#fff" stroke-width="0.3" >4,076</text>
<rect x="23.1" y="254" width="16.1" height="26.7" fill="#7e8a99"/>
<rect x="23.1" y="266.8" width="16.1" height="1" fill="#aab5c1"/>
<rect x="23.1" y="280.7" width="16.1" height="14" fill="#000080"/>
<text x="37.2" y="264.8" font-size="10" text-anchor="end" font-weight="normal" fill="#000" stroke="#000" stroke-width="0.3" >54</text>
<text x="37.2" y="277.7" font-size="10" text-anchor="end" font-weight="normal" fill="#000" stroke="#000" stroke-width="0.3" >54</text>
<text x="37.2" y="291.7" font-size="10" text-anchor="end" font-weight="normal" fill="#fff" stroke="#fff" stroke-width="0.3" >48</text>
<line x1="40.6" y1="481.3" x2="557.2" y2="481.3" stroke="#bcc2c8" stroke-width="1.2" />
<line x1="40.6" y1="463.5" x2="40.6" y2="499.5" stroke="#bcc2c8" stroke-width="1.3" />
<text x="42.300000000000004" y="475.8" font-size="10.5" text-anchor="start" font-weight="normal" fill="#000" textLength="14.7" lengthAdjust="spacingAndGlyphs" stroke="#000" stroke-width="0.3" >Jan</text>
<line x1="61.5" y1="463.5" x2="61.5" y2="481.3" stroke="#bcc2c8" stroke-width="1.3" />
<text x="63.2" y="475.8" font-size="10.5" text-anchor="start" font-weight="normal" fill="#000" textLength="16.7" lengthAdjust="spacingAndGlyphs" stroke="#000" stroke-width="0.3" >Apr</text>
<line x1="83.4" y1="463.5" x2="83.4" y2="481.3" stroke="#bcc2c8" stroke-width="1.3" />
<text x="85.10000000000001" y="475.8" font-size="10.5" text-anchor="start" font-weight="normal" fill="#000" textLength="11.9" lengthAdjust="spacingAndGlyphs" stroke="#000" stroke-width="0.3" >Jul</text>
<line x1="105.4" y1="463.5" x2="105.4" y2="481.3" stroke="#bcc2c8" stroke-width="1.3" />
<text x="107.10000000000001" y="475.8" font-size="10.5" text-anchor="start" font-weight="normal" fill="#000" textLength="17.1" lengthAdjust="spacingAndGlyphs" stroke="#000" stroke-width="0.3" >Oct</text>
<text x="87.39999999999999" y="496.0" font-size="12.5" text-anchor="middle" font-weight="normal" fill="#000" textLength="27" lengthAdjust="spacingAndGlyphs" stroke="#000" stroke-width="0.3" >2020</text>
<line x1="126.6" y1="463.5" x2="126.6" y2="499.5" stroke="#bcc2c8" stroke-width="1.3" />
<text x="128.29999999999998" y="475.8" font-size="10.5" text-anchor="start" font-weight="normal" fill="#000" textLength="14.7" lengthAdjust="spacingAndGlyphs" stroke="#000" stroke-width="0.3" >Jan</text>
<line x1="148.4" y1="463.5" x2="148.4" y2="481.3" stroke="#bcc2c8" stroke-width="1.3" />
<text x="150.1" y="475.8" font-size="10.5" text-anchor="start" font-weight="normal" fill="#000" textLength="16.7" lengthAdjust="spacingAndGlyphs" stroke="#000" stroke-width="0.3" >Apr</text>
<line x1="169.8" y1="463.5" x2="169.8" y2="481.3" stroke="#bcc2c8" stroke-width="1.3" />
<text x="171.5" y="475.8" font-size="10.5" text-anchor="start" font-weight="normal" fill="#000" textLength="11.9" lengthAdjust="spacingAndGlyphs" stroke="#000" stroke-width="0.3" >Jul</text>
<line x1="191.6" y1="463.5" x2="191.6" y2="481.3" stroke="#bcc2c8" stroke-width="1.3" />
<text x="193.29999999999998" y="475.8" font-size="10.5" text-anchor="start" font-weight="normal" fill="#000" textLength="17.1" lengthAdjust="spacingAndGlyphs" stroke="#000" stroke-width="0.3" >Oct</text>
<text x="173.4" y="496.0" font-size="12.5" text-anchor="middle" font-weight="normal" fill="#000" textLength="27" lengthAdjust="spacingAndGlyphs" stroke="#000" stroke-width="0.3" >2021</text>
<line x1="212.6" y1="463.5" x2="212.6" y2="499.5" stroke="#bcc2c8" stroke-width="1.3" />
<text x="214.29999999999998" y="475.8" font-size="10.5" text-anchor="start" font-weight="normal" fill="#000" textLength="14.7" lengthAdjust="spacingAndGlyphs" stroke="#000" stroke-width="0.3" >Jan</text>
<line x1="234.8" y1="463.5" x2="234.8" y2="481.3" stroke="#bcc2c8" stroke-width="1.3" />
<text x="236.5" y="475.8" font-size="10.5" text-anchor="start" font-weight="normal" fill="#000" textLength="16.7" lengthAdjust="spacingAndGlyphs" stroke="#000" stroke-width="0.3" >Apr</text>
<line x1="255.7" y1="463.5" x2="255.7" y2="481.3" stroke="#bcc2c8" stroke-width="1.3" />
<text x="257.4" y="475.8" font-size="10.5" text-anchor="start" font-weight="normal" fill="#000" textLength="11.9" lengthAdjust="spacingAndGlyphs" stroke="#000" stroke-width="0.3" >Jul</text>
<line x1="277.5" y1="463.5" x2="277.5" y2="481.3" stroke="#bcc2c8" stroke-width="1.3" />
<text x="279.2" y="475.8" font-size="10.5" text-anchor="start" font-weight="normal" fill="#000" textLength="17.1" lengthAdjust="spacingAndGlyphs" stroke="#000" stroke-width="0.3" >Oct</text>
<text x="259.8" y="496.0" font-size="12.5" text-anchor="middle" font-weight="normal" fill="#000" textLength="27" lengthAdjust="spacingAndGlyphs" stroke="#000" stroke-width="0.3" >2022</text>
<line x1="299.4" y1="463.5" x2="299.4" y2="499.5" stroke="#bcc2c8" stroke-width="1.3" />
<text x="301.09999999999997" y="475.8" font-size="10.5" text-anchor="start" font-weight="normal" fill="#000" textLength="14.7" lengthAdjust="spacingAndGlyphs" stroke="#000" stroke-width="0.3" >Jan</text>
<line x1="320.5" y1="463.5" x2="320.5" y2="481.3" stroke="#bcc2c8" stroke-width="1.3" />
<text x="322.2" y="475.8" font-size="10.5" text-anchor="start" font-weight="normal" fill="#000" textLength="16.7" lengthAdjust="spacingAndGlyphs" stroke="#000" stroke-width="0.3" >Apr</text>
<line x1="341.7" y1="463.5" x2="341.7" y2="481.3" stroke="#bcc2c8" stroke-width="1.3" />
<text x="343.4" y="475.8" font-size="10.5" text-anchor="start" font-weight="normal" fill="#000" textLength="11.9" lengthAdjust="spacingAndGlyphs" stroke="#000" stroke-width="0.3" >Jul</text>
<line x1="363.5" y1="463.5" x2="363.5" y2="481.3" stroke="#bcc2c8" stroke-width="1.3" />
<text x="365.2" y="475.8" font-size="10.5" text-anchor="start" font-weight="normal" fill="#000" textLength="17.1" lengthAdjust="spacingAndGlyphs" stroke="#000" stroke-width="0.3" >Oct</text>
<text x="346.25" y="496.0" font-size="12.5" text-anchor="middle" font-weight="normal" fill="#000" textLength="27" lengthAdjust="spacingAndGlyphs" stroke="#000" stroke-width="0.3" >2023</text>
<line x1="385.5" y1="463.5" x2="385.5" y2="499.5" stroke="#bcc2c8" stroke-width="1.3" />
<text x="387.2" y="475.8" font-size="10.5" text-anchor="start" font-weight="normal" fill="#000" textLength="14.7" lengthAdjust="spacingAndGlyphs" stroke="#000" stroke-width="0.3" >Jan</text>
<line x1="406.7" y1="463.5" x2="406.7" y2="481.3" stroke="#bcc2c8" stroke-width="1.3" />
<text x="408.4" y="475.8" font-size="10.5" text-anchor="start" font-weight="normal" fill="#000" textLength="16.7" lengthAdjust="spacingAndGlyphs" stroke="#000" stroke-width="0.3" >Apr</text>
<line x1="428.5" y1="463.5" x2="428.5" y2="481.3" stroke="#bcc2c8" stroke-width="1.3" />
<text x="430.2" y="475.8" font-size="10.5" text-anchor="start" font-weight="normal" fill="#000" textLength="11.9" lengthAdjust="spacingAndGlyphs" stroke="#000" stroke-width="0.3" >Jul</text>
<line x1="449.6" y1="463.5" x2="449.6" y2="481.3" stroke="#bcc2c8" stroke-width="1.3" />
<text x="451.3" y="475.8" font-size="10.5" text-anchor="start" font-weight="normal" fill="#000" textLength="17.1" lengthAdjust="spacingAndGlyphs" stroke="#000" stroke-width="0.3" >Oct</text>
<text x="432.3" y="496.0" font-size="12.5" text-anchor="middle" font-weight="normal" fill="#000" textLength="27" lengthAdjust="spacingAndGlyphs" stroke="#000" stroke-width="0.3" >2024</text>
<line x1="471.5" y1="463.5" x2="471.5" y2="499.5" stroke="#bcc2c8" stroke-width="1.3" />
<text x="473.2" y="475.8" font-size="10.5" text-anchor="start" font-weight="normal" fill="#000" textLength="14.7" lengthAdjust="spacingAndGlyphs" stroke="#000" stroke-width="0.3" >Jan</text>
<line x1="492.6" y1="463.5" x2="492.6" y2="481.3" stroke="#bcc2c8" stroke-width="1.3" />
<text x="494.3" y="475.8" font-size="10.5" text-anchor="start" font-weight="normal" fill="#000" textLength="16.7" lengthAdjust="spacingAndGlyphs" stroke="#000" stroke-width="0.3" >Apr</text>
<line x1="514.4" y1="463.5" x2="514.4" y2="481.3" stroke="#bcc2c8" stroke-width="1.3" />
<text x="516.1" y="475.8" font-size="10.5" text-anchor="start" font-weight="normal" fill="#000" textLength="11.9" lengthAdjust="spacingAndGlyphs" stroke="#000" stroke-width="0.3" >Jul</text>
<line x1="536.3" y1="463.5" x2="536.3" y2="481.3" stroke="#bcc2c8" stroke-width="1.3" />
<text x="538.0" y="475.8" font-size="10.5" text-anchor="start" font-weight="normal" fill="#000" textLength="17.1" lengthAdjust="spacingAndGlyphs" stroke="#000" stroke-width="0.3" >Oct</text>
<text x="518.15" y="496.0" font-size="12.5" text-anchor="middle" font-weight="normal" fill="#000" textLength="27" lengthAdjust="spacingAndGlyphs" stroke="#000" stroke-width="0.3" >2025</text>
<line x1="557.2" y1="463.5" x2="557.2" y2="499.5" stroke="#bcc2c8" stroke-width="1.3" />
</svg></body></html>
